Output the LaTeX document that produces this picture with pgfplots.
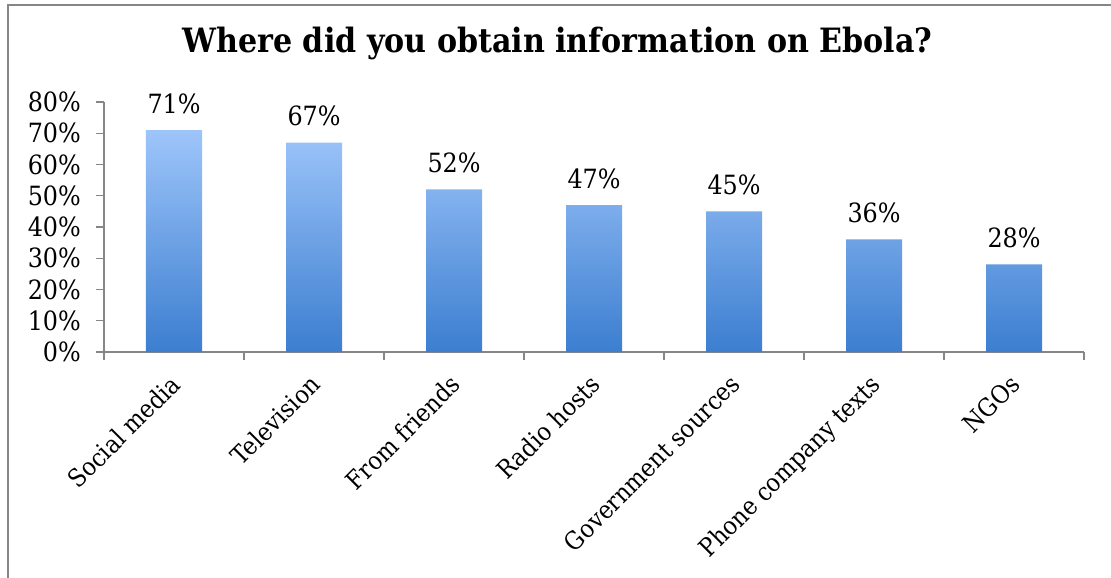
\documentclass[border=0pt]{standalone}
\usepackage{fontspec}
\setmainfont{DejaVu Serif Condensed}
\usepackage{pgfplots}
\pgfplotsset{compat=1.18}
\definecolor{axgray}{RGB}{134,134,134}
\definecolor{bartop}{RGB}{158,197,250}
\definecolor{barbot}{RGB}{60,126,208}
\begin{document}
\begin{tikzpicture}
\useasboundingbox (-104pt,-226pt) rectangle (1007pt,352pt);
\draw[axgray, line width=1.5pt] (-96pt,-240pt) -- (-96pt,347pt) -- (1020pt,347pt);
\node[anchor=base, font=\fontsize{33.5}{40}\selectfont\bfseries] at (453.5pt,299pt) {Where did you obtain information on Ebola?};
\begin{axis}[
  at={(0pt,0pt)}, anchor=south west,
  scale only axis, width=980pt, height=250pt,
  xmin=-0.5, xmax=6.5, ymin=0, ymax=80,
  clip=false,
  axis x line*=bottom, axis y line*=left,
  axis line style={axgray, line width=1.3pt},
  tick style={axgray, line width=1.3pt},
  tick align=outside,
  major tick length=8pt,
  /pgf/number format/assume math mode=true,
  ytick={0,10,...,80},
  yticklabel={\pgfmathprintnumber{\tick}\%},
  yticklabel style={font=\fontsize{26.5}{31}\selectfont, anchor=east, inner sep=0pt, xshift=-15pt},
  xtick={-0.5,0.5,1.5,2.5,3.5,4.5,5.5,6.5},
  xticklabels={,,,,,,,},
  extra x ticks={0,1,2,3,4,5,6},
  extra x tick labels={Social media, Television, From friends, Radio hosts, Government sources, Phone company texts, NGOs},
  extra x tick style={major tick length=0pt, xticklabel style={font=\fontsize{25}{30}\selectfont, rotate=45, anchor=north east, inner sep=0pt, xshift=-18.7pt, yshift=-10.8pt}},
]
\addplot[ybar, bar width=56pt, draw=none, top color=bartop, bottom color=barbot,
  point meta=y,
  nodes near coords={\pgfmathprintnumber{\pgfplotspointmeta}\%},
  every node near coord/.append style={font=\fontsize{26.5}{31}\selectfont, text=black, anchor=base, inner sep=0pt, yshift=17pt}]
  coordinates {(0,71) (1,67) (2,52) (3,47) (4,45) (5,36) (6,28)};
\end{axis}
\end{tikzpicture}
\end{document}
